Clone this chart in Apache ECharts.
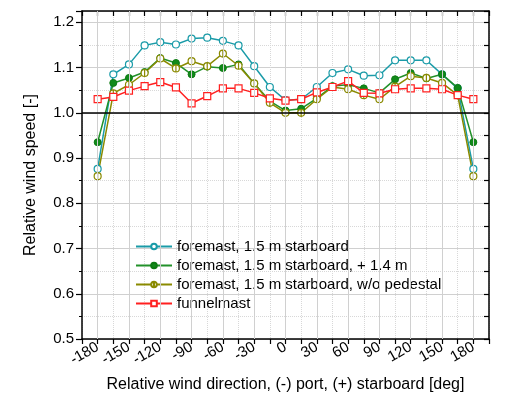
<!DOCTYPE html>
<html>
<head>
<meta charset="utf-8">
<script src="https://cdn.jsdelivr.net/npm/echarts@6/dist/echarts.min.js"></script>
<style>
  html, body { margin: 0; padding: 0; background: #fff; }
  #chart { width: 507px; height: 405px; }
</style>
</head>
<body>
<div id="chart"></div>
<script>
// wind directions [deg]
var angles = [-180, -165, -150, -135, -120, -105, -90, -75, -60, -45, -30, -15, 0,
  15, 30, 45, 60, 75, 90, 105, 120, 135, 150, 165, 180]
var foremast = [0.876, 1.085, 1.107, 1.149, 1.156, 1.151, 1.164, 1.166, 1.159, 1.149, 1.103, 1.057, 1.028,
  1.030, 1.057, 1.088, 1.096, 1.082, 1.083, 1.116, 1.116, 1.116, 1.085, 1.054, 0.876]
var foremastPlus = [0.935, 1.066, 1.077, 1.090, 1.121, 1.110, 1.085, 1.102, 1.099, 1.107, 1.065, 1.026, 1.005,
  1.009, 1.032, 1.059, 1.062, 1.054, 1.044, 1.074, 1.088, 1.076, 1.085, 1.055, 0.935]
var foremastNoPed = [0.860, 1.043, 1.062, 1.088, 1.120, 1.098, 1.114, 1.103, 1.131, 1.104, 1.065, 1.022, 1.000,
  1.000, 1.030, 1.057, 1.052, 1.039, 1.030, 1.058, 1.081, 1.077, 1.066, 1.039, 0.860]
var funnelmast = [1.030, 1.035, 1.049, 1.059, 1.068, 1.056, 1.021, 1.037, 1.054, 1.054, 1.044, 1.032, 1.027,
  1.030, 1.045, 1.057, 1.070, 1.044, 1.043, 1.052, 1.054, 1.054, 1.052, 1.039, 1.030]
var majorX = [-180, -150, -120, -90, -60, -30, 0, 30, 60, 90, 120, 150, 180]

function pairs(vals) {
  return angles.map(function(a, i) { return [a, vals[i]] })
}

var font = 'Liberation Sans, Arial, sans-serif'
// open circle with a vertical bar (Origin style)
var barCircle = 'path://M0,-5A5,5 0 1,1 0,5A5,5 0 1,1 0,-5ZM0,-5L0,5'

var myChart = echarts.init(document.getElementById('chart'))
myChart.setOption({
  animation: false,
  grid: { left: 82, right: 18, top: 11, bottom: 66 },
  legend: {
    orient: 'vertical',
    left: 130,
    top: 234,
    itemWidth: 36,
    itemHeight: 7,
    itemGap: 4,
    textStyle: { fontFamily: font, fontSize: 15, color: '#000' },
    data: ['foremast, 1.5 m starboard', 'foremast, 1.5 m starboard, + 1.4 m',
      'foremast, 1.5 m starboard, w/o pedestal', 'funnelmast']
  },
  xAxis: [
    {
      type: 'value',
      min: -195,
      max: 195,
      interval: 15,
      name: 'Relative wind direction, (-) port, (+) starboard [deg]',
      nameLocation: 'middle',
      nameGap: 38,
      nameTextStyle: { fontFamily: font, fontSize: 16, color: '#000' },
      axisLine: { onZero: false, lineStyle: { color: '#000', width: 1.5 } },
      axisTick: { length: 5, lineStyle: { color: '#000', width: 1.2 } },
      axisLabel: {
        rotate: 30,
        margin: 7,
        fontFamily: font,
        fontSize: 15,
        color: '#000',
        formatter: function(v) { return v % 30 === 0 ? String(v) : '' }
      },
      splitLine: { show: true, lineStyle: { color: '#d8d8d8', type: 'dotted', width: 1 } }
    },
    {
      type: 'value',
      position: 'top',
      min: -195,
      max: 195,
      interval: 15,
      axisLine: { onZero: false, lineStyle: { color: '#000', width: 1.5 } },
      axisTick: { inside: true, length: 5, lineStyle: { color: '#000', width: 1.2 } },
      axisLabel: { show: false },
      splitLine: { show: false }
    }
  ],
  yAxis: [
    {
      type: 'value',
      min: 0.5,
      max: 1.225,
      interval: 0.1,
      name: 'Relative wind speed [-]',
      nameLocation: 'middle',
      nameGap: 43,
      nameTextStyle: { fontFamily: font, fontSize: 16, color: '#000' },
      axisLine: { show: true, onZero: false, lineStyle: { color: '#000', width: 1.5 } },
      axisTick: { show: true, length: 6, lineStyle: { color: '#000', width: 1.2 } },
      minorTick: { show: true, splitNumber: 2, length: 3, lineStyle: { color: '#000' } },
      axisLabel: {
        fontFamily: font,
        fontSize: 15,
        color: '#000',
        formatter: function(v) { return v.toFixed(1) }
      },
      splitLine: { show: true, lineStyle: { color: '#d0d0d0', width: 1 } },
      minorSplitLine: { show: true, lineStyle: { color: '#d8d8d8', type: 'dotted' } }
    },
    {
      type: 'value',
      position: 'right',
      min: 0.5,
      max: 1.225,
      interval: 0.05,
      axisLine: { show: true, onZero: false, lineStyle: { color: '#000', width: 1.5 } },
      axisTick: { show: true, inside: true, length: 5, lineStyle: { color: '#000', width: 1.2 } },
      axisLabel: { show: false },
      splitLine: { show: false }
    }
  ],
  series: [
    {
      // solid major vertical grid lines + reference line at 1.0
      type: 'line',
      data: [],
      z: 1,
      silent: true,
      markLine: {
        silent: true,
        symbol: 'none',
        label: { show: false },
        animation: false,
        data: majorX.map(function(x) {
          return { xAxis: x, lineStyle: { color: '#d0d0d0', width: 1, type: 'solid' } }
        }).concat([{ yAxis: 1.0, lineStyle: { color: '#000', width: 1.5, type: 'solid' } }])
      }
    },
    {
      name: 'foremast, 1.5 m starboard',
      type: 'line',
      data: pairs(foremast),
      symbol: 'circle',
      symbolSize: 7,
      z: 3,
      lineStyle: { color: '#1a9ba8', width: 1.5 },
      itemStyle: { color: '#fff', borderColor: '#1a9ba8', borderWidth: 1.2 }
    },
    {
      name: 'foremast, 1.5 m starboard, + 1.4 m',
      type: 'line',
      data: pairs(foremastPlus),
      symbol: 'circle',
      symbolSize: 7,
      z: 3,
      lineStyle: { color: '#22912a', width: 1.5 },
      itemStyle: { color: '#118a1a', borderColor: '#0d7a12', borderWidth: 1 }
    },
    {
      name: 'foremast, 1.5 m starboard, w/o pedestal',
      type: 'line',
      data: pairs(foremastNoPed),
      symbol: barCircle,
      symbolSize: 7,
      z: 3,
      lineStyle: { color: '#8a8a00', width: 1.5 },
      itemStyle: { color: '#fff', borderColor: '#8a8a00', borderWidth: 1.2 }
    },
    {
      name: 'funnelmast',
      type: 'line',
      data: pairs(funnelmast),
      symbol: 'rect',
      symbolSize: 7,
      z: 4,
      lineStyle: { color: '#ff2020', width: 1.5 },
      itemStyle: { color: '#fff', borderColor: '#ff2020', borderWidth: 1.2 }
    }
  ]
})
</script>
</body>
</html>
